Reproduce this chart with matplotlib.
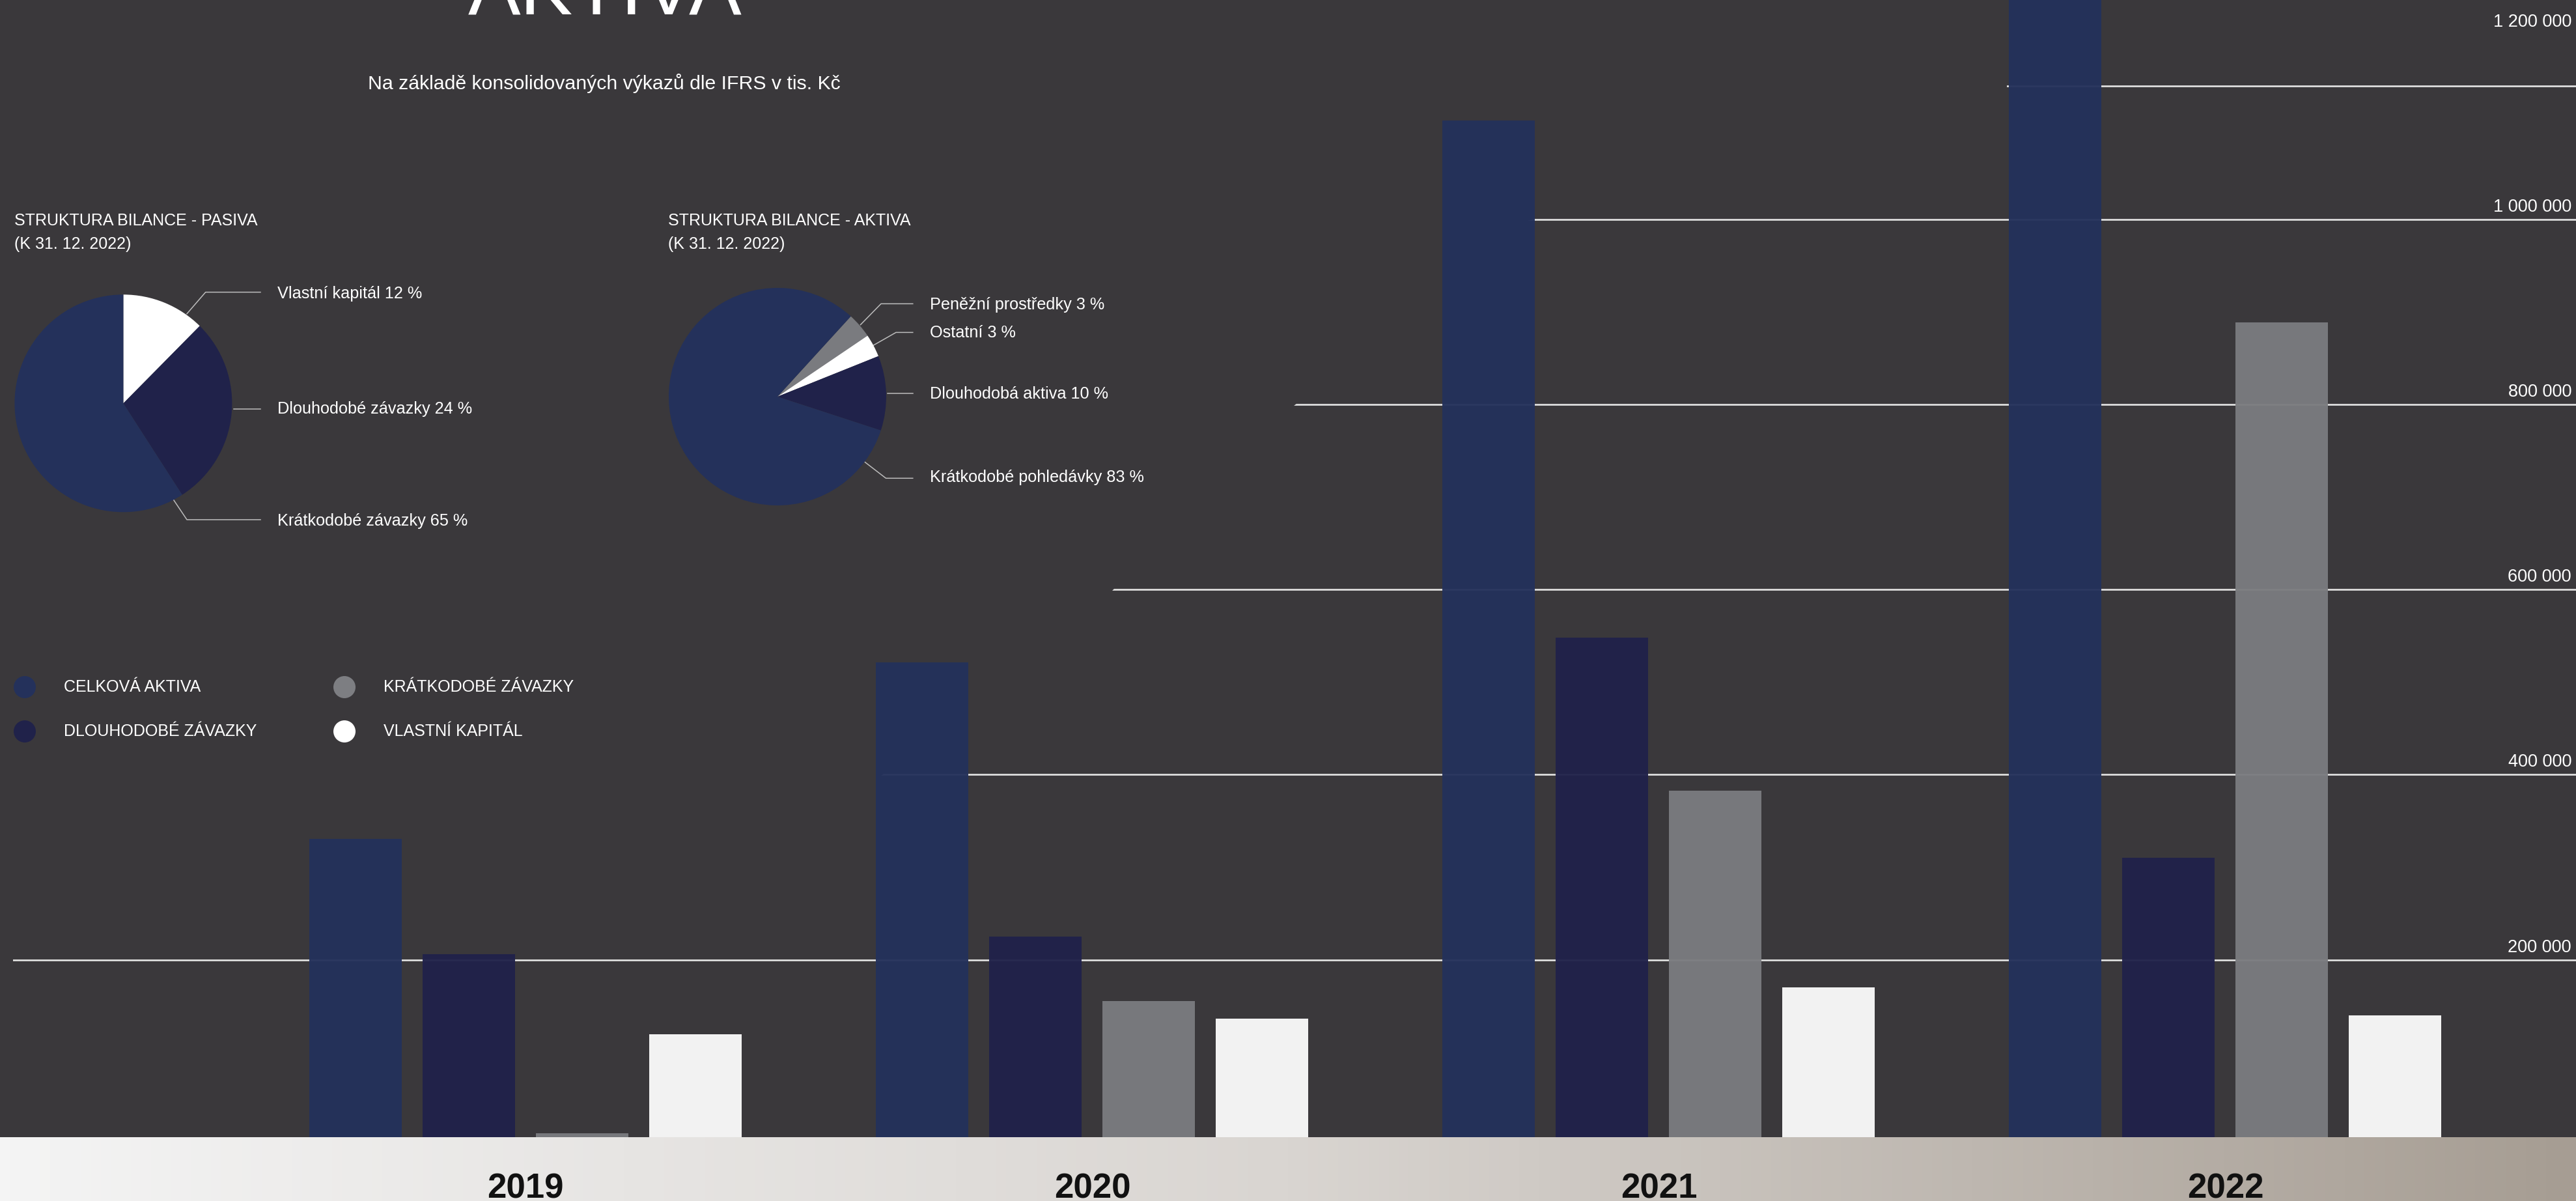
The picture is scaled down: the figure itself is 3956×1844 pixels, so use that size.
import numpy as np
import matplotlib
matplotlib.use('Agg')
import matplotlib.pyplot as plt
from matplotlib.patches import Polygon
from matplotlib.colors import LinearSegmentedColormap
from matplotlib.transforms import blended_transform_factory, offset_copy

# ---------------- data ----------------
years = ['2019', '2020', '2021', '2022']
series_names = ['CELKOVÁ AKTIVA', 'DLOUHODOBÉ ZÁVAZKY', 'KRÁTKODOBÉ ZÁVAZKY', 'VLASTNÍ KAPITÁL']
celkova_aktiva = [330800, 521400, 1107000, 1260000]
dlouhodobe_zavazky = [206000, 225000, 548000, 310200]
kratkodobe_zavazky = [12500, 155700, 383000, 889000]
vlastni_kapital = [119700, 136400, 170000, 139800]

y_ticks = [200000, 400000, 600000, 800000, 1000000, 1200000]
y_tick_labels = ['200 000', '400 000', '600 000', '800 000', '1 000 000', '1 200 000']

pasiva_labels = ['Vlastní kapitál 12 %', 'Dlouhodobé závazky 24 %', 'Krátkodobé závazky 65 %']
pasiva_shares = [12.4, 28.5, 59.1]
aktiva_labels = ['Peněžní prostředky 3 %', 'Ostatní 3 %', 'Dlouhodobá aktiva 10 %',
                 'Krátkodobé pohledávky 83 %']
aktiva_shares = [3.75, 3.4, 11.1, 81.75]

title = 'AKTIVA'
subtitle = 'Na základě konsolidovaných výkazů dle IFRS v tis. Kč'
pie1_title = ['STRUKTURA BILANCE - PASIVA', '(K 31. 12. 2022)']
pie2_title = ['STRUKTURA BILANCE - AKTIVA', '(K 31. 12. 2022)']

# ---------------- style ----------------
W, H, DPI = 3956, 1844, 100
BG = '#3A383B'
C_CA = '#24315B'
C_DZ = '#20224A'
C_KZ = '#7A7B7F'
C_VK = '#FBFBFB'
WHITE = '#FFFFFF'
GRID = '#E4E4E4'
series_colors = [C_CA, C_DZ, C_KZ, C_VK]
legend_colors = [C_CA, C_DZ, '#7D7E82', WHITE]

plt.rcParams['font.family'] = ['Liberation Sans', 'DejaVu Sans']

fig = plt.figure(figsize=(W / DPI, H / DPI), dpi=DPI, facecolor=BG)


def fx(px):
    return px / W


def fy(py):
    return 1 - py / H


# main bar axes
ZERO_PX = 1757.8
PX_PER_200K = 284.2
Y_TOP = ZERO_PX / PX_PER_200K * 200000
TOP_RULE = (ZERO_PX - 131.7) / PX_PER_200K * 200000
ax = fig.add_axes([fx(20), fy(ZERO_PX), 1 - fx(20), ZERO_PX / H])
ax.set_facecolor('none')

x = np.arange(len(years))
offsets = [-0.3, -0.1, 0.1, 0.3]
bar_w = 0.1632
for vals, off, col in zip([celkova_aktiva, dlouhodobe_zavazky, kratkodobe_zavazky, vlastni_kapital],
                          offsets, series_colors):
    ax.bar(x + off, vals, bar_w, color=col, alpha=0.96, linewidth=0, zorder=3)

ax.set_yticks(y_ticks[:-1])
ax.yaxis.grid(True, color=GRID, lw=1.9)
ax.xaxis.grid(False)
ax.set_axisbelow(True)
ax.axhline(TOP_RULE, color=GRID, lw=1.9, zorder=0.5)
ax.tick_params(length=0, labelleft=False, labelbottom=False)
for s in ax.spines.values():
    s.set_visible(False)

# overlay axes in pixel coordinates
ov = fig.add_axes([0, 0, 1, 1])
ov.set_xlim(0, W)
ov.set_ylim(H, 0)
ov.axis('off')
ov.patch.set_alpha(0)

# mask hiding the left part of the grid lines (decorative background shape)
mask = Polygon([(0, 0), (3082, 0), (3082, 134), (2346, 339), (1987, 623), (1707, 908),
                (1352, 1192), (1352, 1320), (0, 1320)], closed=True,
               facecolor=BG, edgecolor='none', transform=ov.transData, zorder=1)
ax.add_patch(mask)
ax.set_xlim(-0.905, 3.619)
ax.set_ylim(0, Y_TOP)

# y tick labels (right, above lines)
ytr = offset_copy(blended_transform_factory(ov.transData, ax.transData), fig=fig, y=12, units='dots')
for v, lab in zip(y_ticks, y_tick_labels):
    ov.text(3949, v, lab, transform=ytr, ha='right', va='baseline', color=WHITE, fontsize=19.5)

# titles
ov.text(929, 22, title, ha='center', va='baseline', color=WHITE, fontsize=87)
ov.text(928, 137, subtitle, ha='center', va='baseline', color=WHITE, fontsize=21.8)
for tx, lines in [(22, pie1_title), (1026, pie2_title)]:
    ov.text(tx, 346, lines[0], ha='left', va='baseline', color=WHITE, fontsize=18)
    ov.text(tx, 382, lines[1], ha='left', va='baseline', color=WHITE, fontsize=18)

# pies
R = 167
p1 = fig.add_axes([fx(189.4 - R), fy(619.3 + R), 2 * R / W, 2 * R / H])
p1.pie(pasiva_shares, colors=[WHITE, C_DZ, C_CA], startangle=90, counterclock=False,
       radius=1, wedgeprops=dict(linewidth=0))
p1.set_xlim(-1, 1)
p1.set_ylim(-1, 1)
p1.axis('off')

p2 = fig.add_axes([fx(1194 - R), fy(609 + R), 2 * R / W, 2 * R / H])
p2.pie(aktiva_shares, colors=[C_KZ, WHITE, C_DZ, C_CA], startangle=47.6, counterclock=False,
       radius=1, wedgeprops=dict(linewidth=0))
p2.set_xlim(-1, 1)
p2.set_ylim(-1, 1)
p2.axis('off')

LEADER = '#BDBDBD'
pie1_leaders = [[(287, 481.8), (315.7, 448.6), (400, 448.6)],
                [(359, 628), (400, 628)],
                [(266.6, 767.5), (287, 797.9), (400, 797.9)]]
pie1_text_y = [450.7, 628, 799.6]
for pts, lab, ty in zip(pie1_leaders, pasiva_labels, pie1_text_y):
    xs, ys = zip(*pts)
    ov.plot(xs, ys, color=LEADER, lw=1.1)
    ov.text(426, ty, lab, ha='left', va='center', color=WHITE, fontsize=18.2)

pie2_leaders = [[(1321.5, 498.6), (1353, 466.4), (1401.8, 466.4)],
                [(1341.6, 530), (1376, 510.4), (1401.8, 510.4)],
                [(1362.8, 604.3), (1401.8, 604.3)],
                [(1328.4, 709.6), (1360.5, 734.3), (1401.8, 734.3)]]
pie2_text_y = [467.5, 511.4, 605, 732.9]
for pts, lab, ty in zip(pie2_leaders, aktiva_labels, pie2_text_y):
    xs, ys = zip(*pts)
    ov.plot(xs, ys, color=LEADER, lw=1.1)
    ov.text(1428, ty, lab, ha='left', va='center', color=WHITE, fontsize=18.2)

# legend
for i, (name, col) in enumerate(zip(series_names, legend_colors)):
    c, r = i // 2, i % 2
    mx = 38 + c * 491
    my = 1055 + r * 68
    ov.scatter([mx], [my], s=(34 * 0.72) ** 2, color=col, edgecolors='none')
    ov.text(mx + 59.6, my, name, ha='left', va='center', color=WHITE, fontsize=18)

# bottom gradient band with years
band = fig.add_axes([0, 0, 1, (H - 1746) / H])
cmap = LinearSegmentedColormap.from_list('band', ['#F4F4F4', '#D9D5D1', '#A69D93'])
band.imshow(np.linspace(0, 1, 512).reshape(1, -1), aspect='auto', cmap=cmap,
            extent=[0, 1, 0, 1])
band.set_xlim(0, 1)
band.set_ylim(0, 1)
band.axis('off')
ytr2 = blended_transform_factory(ax.transData, ov.transData)
for xi, yr in zip(x, years):
    band.text(xi, 1839, yr, transform=ytr2, ha='center', va='baseline', color='#111111',
              fontsize=38, fontweight='bold', clip_on=False)

fig.savefig('out.png', dpi=DPI, facecolor=BG)
